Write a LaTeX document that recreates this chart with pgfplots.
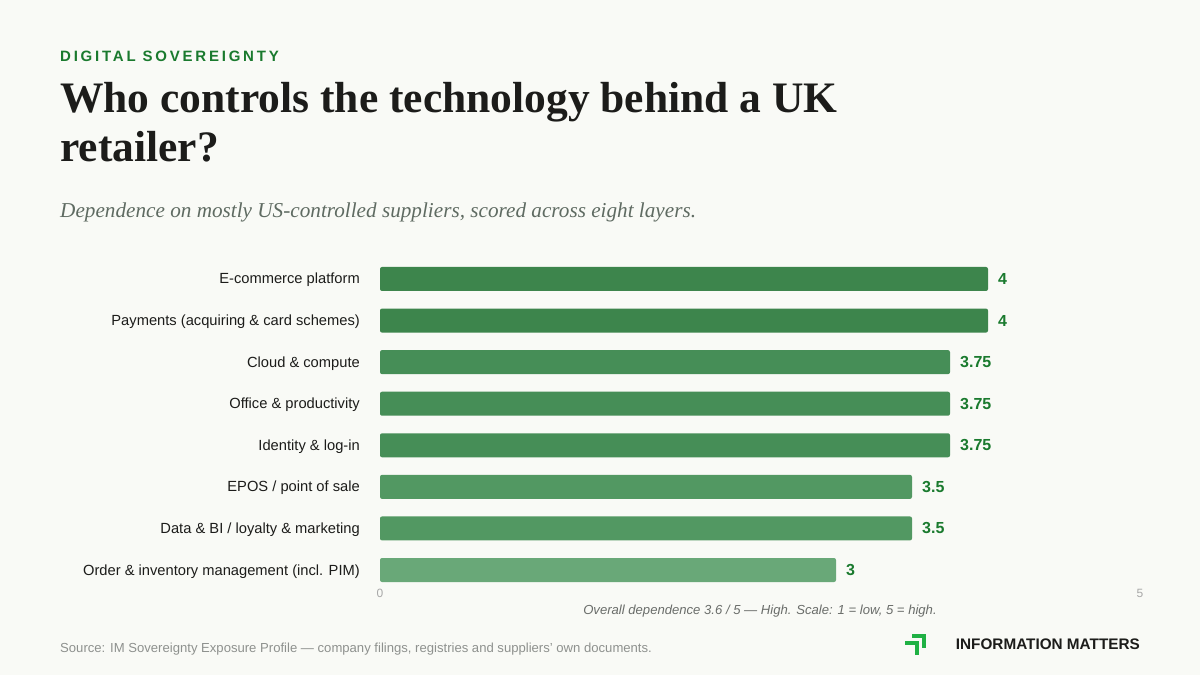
\documentclass[border=0pt]{standalone}
\usepackage{pgfplots}
\pgfplotsset{compat=1.18}
\usepackage{fontspec}
\setmainfont{Liberation Sans}
\newfontfamily\seriffont{Liberation Serif}
\newfontfamily\kickerfont[LetterSpace=18.5]{Liberation Sans}

\definecolor{bg}{HTML}{F9FAF6}
\definecolor{ink}{HTML}{1C1C1A}
\definecolor{kgreen}{HTML}{1A7A2E}
\definecolor{subgrey}{HTML}{5F6B62}
\definecolor{tickgrey}{HTML}{A8A8A8}
\definecolor{notegrey}{HTML}{6A6D6A}
\definecolor{srcgrey}{HTML}{8E918E}
\definecolor{logogreen}{HTML}{1FB144}
\definecolor{barA}{HTML}{3D854C}
\definecolor{barB}{HTML}{468E57}
\definecolor{barC}{HTML}{529862}
\definecolor{barD}{HTML}{69A878}

\begin{document}
\begin{tikzpicture}[x=1pt,y=1pt]
\fill[bg] (0,0) rectangle (1200,675);
\useasboundingbox (0,0) rectangle (1200,675);

% Header
\node[anchor=base west, inner sep=0pt, text=kgreen,
      font=\kickerfont\bfseries\fontsize{15}{18}\selectfont] at (60,613) {DIGITAL SOVEREIGNTY};
\node[anchor=base west, inner sep=0pt, text=ink,
      font=\seriffont\bfseries\fontsize{43.5}{48}\selectfont] at (60,562.5) {Who controls the technology behind a UK};
\node[anchor=base west, inner sep=0pt, text=ink,
      font=\seriffont\bfseries\fontsize{43.5}{48}\selectfont] at (60,513) {retailer?};
\node[anchor=base west, inner sep=0pt, text=subgrey,
      font=\seriffont\itshape\fontsize{21.2}{24}\selectfont] at (60,457.5) {Dependence on mostly US-controlled suppliers, scored across eight layers.};

% Scores per layer
\begin{axis}[
  at={(380pt,84.2pt)}, anchor=south west,
  scale only axis, width=760pt, height=332.6pt,
  xmin=0, xmax=5, ymin=0.5, ymax=8.5, y dir=reverse,
  clip=false,
  axis line style={draw=none},
  major tick length=0pt,
  xtick={0,5},
  ytick={1,...,8},
  yticklabels={{E-commerce platform},{Payments (acquiring \& card schemes)},{Cloud \& compute},{Office \& productivity},{Identity \& log-in},{EPOS / point of sale},{Data \& BI / loyalty \& marketing},{Order \& inventory management (incl. PIM)}},
  yticklabel style={font=\fontsize{14.7}{18}\selectfont, text=ink, anchor=east, inner sep=0pt, xshift=-20pt, yshift=-1.2pt},
  xticklabel style={font=\fontsize{12}{14}\selectfont, text=tickgrey, anchor=north, inner sep=0pt, yshift=2pt},
  /pgf/number format/assume math mode=true,
  xbar, bar width=24pt,
  point meta=x,
  nodes near coords,
  nodes near coords style={font=\bfseries\fontsize{16}{19}\selectfont, text=kgreen, anchor=west, inner sep=0pt, xshift=10pt},
]
\addplot[fill=barA, draw=none, bar shift=0pt, rounded corners=2pt] coordinates {(4,1) (4,2)};
\addplot[fill=barB, draw=none, bar shift=0pt, rounded corners=2pt] coordinates {(3.75,3) (3.75,4) (3.75,5)};
\addplot[fill=barC, draw=none, bar shift=0pt, rounded corners=2pt] coordinates {(3.5,6) (3.5,7)};
\addplot[fill=barD, draw=none, bar shift=0pt, rounded corners=2pt] coordinates {(3,8)};
\end{axis}

\node[anchor=base, inner sep=0pt, text=notegrey,
      font=\itshape\fontsize{13.1}{16}\selectfont] at (760,60) {Overall dependence 3.6 / 5 — High. Scale: 1 = low, 5 = high.};

% Footer
\node[anchor=base west, inner sep=0pt, text=srcgrey,
      font=\fontsize{13.1}{16}\selectfont] at (60,23) {Source: IM Sovereignty Exposure Profile — company filings, registries and suppliers’ own documents.};
\node[anchor=base east, inner sep=0pt, text=ink,
      font=\bfseries\fontsize{15.3}{18}\selectfont] at (1140,25) {INFORMATION MATTERS};
\draw[logogreen, line width=4pt, line cap=butt, line join=miter] (912,39) -- (923.5,39) -- (923.5,27);
\draw[logogreen, line width=4pt, line cap=butt, line join=miter] (905,32) -- (916.5,32) -- (916.5,20);
\end{tikzpicture}
\end{document}
